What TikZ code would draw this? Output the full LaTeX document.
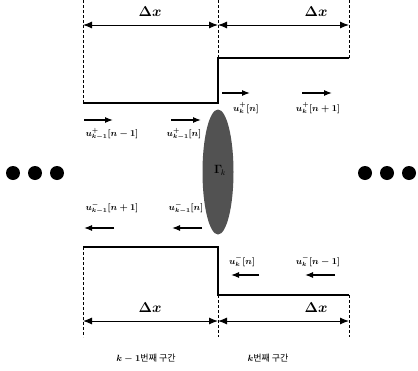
\documentclass[tikz,border=0pt]{standalone}
\usepackage{amsmath}
\usepackage{fontspec}
\setmainfont{Liberation Serif}
\newfontfamily\kr{Noto Sans CJK KR}
\usetikzlibrary{arrows.meta,shapes.geometric}
\begin{document}
\begin{tikzpicture}[x=1pt,y=-1pt,
  guide/.style={densely dashed,line width=0.6pt},
  wall/.style={line width=1.4pt},
  dim/.style={line width=1pt,{Latex[length=9pt,width=7pt]}-{Latex[length=9pt,width=7pt]}},
  wave/.style={line width=1.2pt,-{Latex[length=8pt,width=6pt]}},
  lbl/.style={font=\small\boldmath,inner sep=1pt},
  dlbl/.style={font=\Large\boldmath,inner sep=1pt},
  dot/.style={circle,fill=black,minimum size=14pt,inner sep=0pt}]
\useasboundingbox (0,0) rectangle (418,370);
% guide coordinates
\coordinate (t1) at (83,0);   \coordinate (b1) at (83,337);
\coordinate (t2) at (218,0);  \coordinate (m2t) at (218,58);
\coordinate (m2b) at (218,295); \coordinate (b2) at (218,337);
\coordinate (t3) at (349,0);  \coordinate (m3t) at (349,58);
\coordinate (m3b) at (349,295); \coordinate (b3) at (349,337);
\coordinate (w1) at (83,103); \coordinate (w2) at (218,103);
\coordinate (w3) at (83,247); \coordinate (w4) at (218,247);
% dashed guides
\draw[guide] (t1) -- (w1);
\draw[guide] (w3) -- (b1);
\draw[guide] (t2) -- (m2t);
\draw[guide] (m2b) -- (b2);
\draw[guide] (t3) -- (m3t);
\draw[guide] (m3b) -- (b3);
% tube walls
\draw[wall] (w1) -- (w2) -- (m2t) -- (m3t);
\draw[wall] (w3) -- (w4) -- (m2b) -- (m3b);
% dimension lines
\coordinate (d1) at (83,25); \coordinate (d2) at (218,25); \coordinate (d3) at (349,25);
\coordinate (e1) at (83,321); \coordinate (e2) at (218,321); \coordinate (e3) at (349,321);
\draw[dim] (d1) -- (d2);
\draw[dim] (d2) -- (d3);
\draw[dim] (e1) -- (e2);
\draw[dim] (e2) -- (e3);
\node[dlbl] (dx1) at (150,12) {$\Delta x$};
\node[dlbl] (dx2) at (316,12) {$\Delta x$};
\node[dlbl] (dx3) at (150,308) {$\Delta x$};
\node[dlbl] (dx4) at (316,308) {$\Delta x$};
% junction
\node[ellipse,fill=black!68,minimum width=31pt,minimum height=125pt,inner sep=0pt] (g) at (218,172) {};
\node[font=\large] (gk) at (220,170) {$\boldsymbol{\Gamma}_{\!k}$};
% dots
\node[dot] (l1) at (13,173) {};
\node[dot] (l2) at (35,173) {};
\node[dot] (l3) at (57,173) {};
\node[dot] (r1) at (365,173) {};
\node[dot] (r2) at (387,173) {};
\node[dot] (r3) at (409,173) {};
% forward waves, section k
\coordinate (a1s) at (222,93); \coordinate (a1e) at (250,93);
\coordinate (a2s) at (302,93); \coordinate (a2e) at (332,93);
\draw[wave] (a1s) -- (a1e);
\draw[wave] (a2s) -- (a2e);
\node[lbl] (u1) at (246,108) {$u^{+}_{k}[n]$};
\node[lbl] (u2) at (318,108) {$u^{+}_{k}[n+1]$};
% forward waves, section k-1
\coordinate (a3s) at (84,120); \coordinate (a3e) at (113,120);
\coordinate (a4s) at (171,120); \coordinate (a4e) at (201,120);
\draw[wave] (a3s) -- (a3e);
\draw[wave] (a4s) -- (a4e);
\node[lbl] (u3) at (112,134) {$u^{+}_{k-1}[n-1]$};
\node[lbl] (u4) at (184,134) {$u^{+}_{k-1}[n]$};
% backward waves, section k-1
\coordinate (a5s) at (114,228); \coordinate (a5e) at (84,228);
\coordinate (a6s) at (202,228); \coordinate (a6e) at (172,228);
\draw[wave] (a5s) -- (a5e);
\draw[wave] (a6s) -- (a6e);
\node[lbl] (u5) at (112,208) {$u^{-}_{k-1}[n+1]$};
\node[lbl] (u6) at (186,208) {$u^{-}_{k-1}[n]$};
% backward waves, section k
\coordinate (a7s) at (259,275); \coordinate (a7e) at (231,275);
\coordinate (a8s) at (335,275); \coordinate (a8e) at (305,275);
\draw[wave] (a7s) -- (a7e);
\draw[wave] (a8s) -- (a8e);
\node[lbl] (u7) at (242,261) {$u^{-}_{k}[n]$};
\node[lbl] (u8) at (318,261) {$u^{-}_{k}[n-1]$};
% section names
\node[font=\small\boldmath] (s1) at (146,358) {$k-1${\kr 번째 구간}};
\node[font=\small\boldmath] (s2) at (268,358) {$k${\kr 번째 구간}};
\end{tikzpicture}
\end{document}
